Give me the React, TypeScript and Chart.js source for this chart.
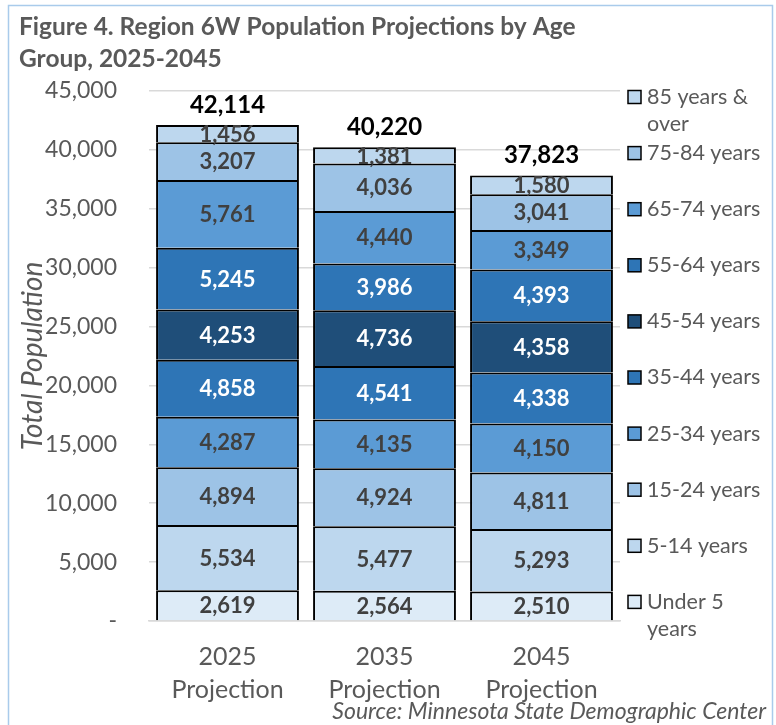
import React, { useEffect, useRef } from "react";
import { Chart, registerables } from "chart.js";

Chart.register(...registerables);

const categories: string[][] = [
  ["2025", "Projection"],
  ["2035", "Projection"],
  ["2045", "Projection"],
];

const seriesNames = [
  "Under 5 years",
  "5-14 years",
  "15-24 years",
  "25-34 years",
  "35-44 years",
  "45-54 years",
  "55-64 years",
  "65-74 years",
  "75-84 years",
  "85 years & over",
];

const legendLines: string[][] = [
  ["Under 5", "years"],
  ["5-14 years"],
  ["15-24 years"],
  ["25-34 years"],
  ["35-44 years"],
  ["45-54 years"],
  ["55-64 years"],
  ["65-74 years"],
  ["75-84 years"],
  ["85 years &", "over"],
];

const under5 = [2619, 2564, 2510];
const age5to14 = [5534, 5477, 5293];
const age15to24 = [4894, 4924, 4811];
const age25to34 = [4287, 4135, 4150];
const age35to44 = [4858, 4541, 4338];
const age45to54 = [4253, 4736, 4358];
const age55to64 = [5245, 3986, 4393];
const age65to74 = [5761, 4440, 3349];
const age75to84 = [3207, 4036, 3041];
const age85plus = [1456, 1381, 1580];

const totals = [42114, 40220, 37823];

const seriesValues = [
  under5,
  age5to14,
  age15to24,
  age25to34,
  age35to44,
  age45to54,
  age55to64,
  age65to74,
  age75to84,
  age85plus,
];

const seriesColors = [
  "#DDEBF7",
  "#BDD7EE",
  "#9DC3E6",
  "#5B9BD5",
  "#2E75B6",
  "#1F4E79",
  "#2E75B6",
  "#5B9BD5",
  "#9DC3E6",
  "#BDD7EE",
];

const labelColors = [
  "#404040",
  "#404040",
  "#404040",
  "#404040",
  "#FFFFFF",
  "#FFFFFF",
  "#FFFFFF",
  "#404040",
  "#404040",
  "#404040",
];

const yTicks = [0, 5000, 10000, 15000, 20000, 25000, 30000, 35000, 40000, 45000];

const titleLines = ["Figure 4. Region 6W Population Projections by Age", "Group, 2025-2045"];
const sourceText = "Source: Minnesota State Demographic Center";

const FONT = "Lato, 'Open Sans', sans-serif";

const fmt = (v: number) => v.toLocaleString("en-US");

const decorPlugin = {
  id: "decor",
  afterDraw(chart: any) {
    const ctx = chart.ctx as CanvasRenderingContext2D;
    const area = chart.chartArea;
    ctx.save();

    // segment labels
    chart.data.datasets.forEach((ds: any, i: number) => {
      const meta = chart.getDatasetMeta(i);
      meta.data.forEach((bar: any, j: number) => {
        const yMid = (bar.y + bar.base) / 2;
        ctx.font = `bold 22px ${FONT}`;
        ctx.fillStyle = labelColors[i];
        ctx.textAlign = "center";
        ctx.textBaseline = "middle";
        ctx.fillText(fmt(ds.data[j]), bar.x, yMid + 1);
      });
    });

    // totals
    const yScale = chart.scales.y;
    const xScale = chart.scales.x;
    totals.forEach((t, j) => {
      const x = xScale.getPixelForValue(j);
      const y = yScale.getPixelForValue(t);
      ctx.font = `bold 24px ${FONT}`;
      ctx.fillStyle = "#000000";
      ctx.textAlign = "center";
      ctx.textBaseline = "middle";
      ctx.fillText(fmt(t), x, y - 20);
    });

    // legend
    const legendX = area.right + 8;
    const top = 97;
    const step = 56.1;
    for (let k = 0; k < seriesNames.length; k++) {
      const idx = seriesNames.length - 1 - k;
      const cy = top + k * step;
      ctx.fillStyle = seriesColors[idx];
      ctx.fillRect(legendX, cy - 6.5, 13, 13);
      ctx.strokeStyle = "#000000";
      ctx.lineWidth = 1.5;
      ctx.strokeRect(legendX, cy - 6.5, 13, 13);
      ctx.font = `21.5px ${FONT}`;
      ctx.fillStyle = "#595959";
      ctx.textAlign = "left";
      ctx.textBaseline = "middle";
      legendLines[idx].forEach((line, li) => {
        ctx.fillText(line, legendX + 19, cy + li * 27);
      });
    }

    // title
    ctx.font = `bold 24.5px ${FONT}`;
    ctx.fillStyle = "#595959";
    ctx.textAlign = "left";
    ctx.textBaseline = "middle";
    titleLines.forEach((line, li) => {
      ctx.fillText(line, 19, 27 + li * 32);
    });

    // source
    ctx.font = `italic 23px ${FONT}`;
    ctx.fillStyle = "#595959";
    ctx.textAlign = "right";
    ctx.fillText(sourceText, 766, 712);

    // frame
    ctx.strokeStyle = "#A9CBEB";
    ctx.lineWidth = 1.5;
    ctx.strokeRect(8.5, 5.5, 764, 740);

    ctx.restore();
  },
};

export default function App() {
  const ref = useRef<HTMLCanvasElement | null>(null);

  useEffect(() => {
    if (!ref.current) return;
    const chart = new Chart(ref.current, {
      type: "bar",
      data: {
        labels: categories,
        datasets: seriesNames.map((name, i) => ({
          label: name,
          data: seriesValues[i],
          backgroundColor: seriesColors[i],
          borderColor: "#000000",
          borderWidth: { left: 2, right: 2, top: 2, bottom: 0 },
          borderSkipped: false,
          categoryPercentage: 0.91,
          barPercentage: 1,
        })),
      },
      options: {
        responsive: false,
        animation: false,
        devicePixelRatio: 1,
        layout: { padding: { top: 91, left: 8, right: 156, bottom: 0 } },
        plugins: {
          legend: { display: false },
          tooltip: { enabled: false },
          title: { display: false },
        },
        scales: {
          x: {
            stacked: true,
            grid: { display: false, drawTicks: false },
            border: { display: true, color: "#D9D9D9", width: 1.5 },
            ticks: {
              color: "#595959",
              font: { family: FONT, size: 25, lineHeight: 1.32 },
              padding: 19,
              maxRotation: 0,
            },
            afterFit: (s: any) => {
              s.height = 104;
            },
          },
          y: {
            stacked: true,
            min: 0,
            max: 45000,
            afterBuildTicks: (s: any) => {
              s.ticks = yTicks.map((v) => ({ value: v }));
            },
            grid: { color: "#D9D9D9", lineWidth: 1.5, drawTicks: false },
            border: { display: false },
            ticks: {
              color: "#595959",
              font: { family: FONT, size: 23 },
              padding: 32,
              callback: (v: any) => (Number(v) === 0 ? "-" : fmt(Number(v))),
            },
            title: {
              display: true,
              text: "Total Population",
              color: "#595959",
              font: { family: FONT, size: 28, style: "italic", lineHeight: 1.2 },
              padding: { top: 8, bottom: 0 },
            },
            afterFit: (s: any) => {
              s.width = 141;
            },
          },
        },
      },
      plugins: [decorPlugin],
    });
    return () => chart.destroy();
  }, []);

  return (
    <div style={{ position: "fixed", left: 0, top: 0, width: 776, height: 725, background: "#fff" }}>
      <canvas ref={ref} width={776} height={725} style={{ width: 776, height: 725, display: "block" }} />
    </div>
  );
}
